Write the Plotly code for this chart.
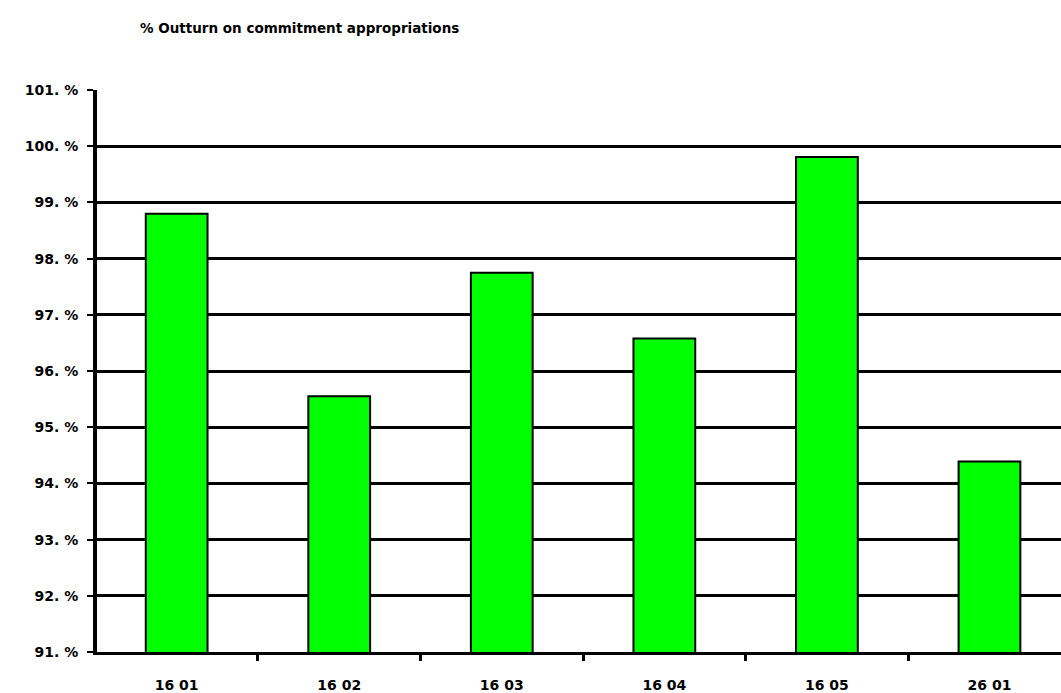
import plotly.graph_objects as go

# Outturn by budget heading
categories = ["16 01", "16 02", "16 03", "16 04", "16 05", "26 01"]
outturn_pct = [98.8, 95.55, 97.75, 96.58, 99.81, 94.39]

tick_values = [91, 92, 93, 94, 95, 96, 97, 98, 99, 100, 101]
tick_labels = ["91. %", "92. %", "93. %", "94. %", "95. %", "96. %",
               "97. %", "98. %", "99. %", "100. %", "101. %"]

font_family = "DejaVu Sans, Liberation Sans, sans-serif"

fig = go.Figure()
fig.add_trace(go.Bar(
    x=categories,
    y=outturn_pct,
    base=0,
    width=0.38,
    marker=dict(color="#00FF00", line=dict(color="black", width=2)),
))

fig.update_layout(
    width=1061,
    height=693,
    margin=dict(l=97, r=0, t=90, b=41),
    paper_bgcolor="white",
    plot_bgcolor="white",
    showlegend=False,
    title=dict(
        text="<b>% Outturn on commitment appropriations</b>",
        x=140 / 1061, xanchor="left",
        y=1 - 28 / 693, yanchor="middle",
        font=dict(family=font_family, size=13.5, color="black"),
    ),
)

fig.update_xaxes(
    type="category",
    range=[-0.49, 5.44],
    showgrid=False,
    showline=True, linecolor="black", linewidth=2.5,
    ticks="outside", tickson="boundaries", ticklen=6, tickwidth=3, tickcolor="black",
    ticklabelstandoff=18,
    tickfont=dict(family=font_family, size=14, color="black", weight="bold"),
    zeroline=False,
)

fig.update_yaxes(
    range=[91, 101],
    tickvals=tick_values,
    ticktext=tick_labels,
    showgrid=True, gridcolor="black", gridwidth=2.5,
    showline=True, linecolor="black", linewidth=4,
    ticks="outside", ticklen=6, tickwidth=2, tickcolor="black",
    ticklabelstandoff=6,
    tickfont=dict(family=font_family, size=14, color="black", weight="bold"),
    zeroline=False,
)

fig.write_html("out.html")
